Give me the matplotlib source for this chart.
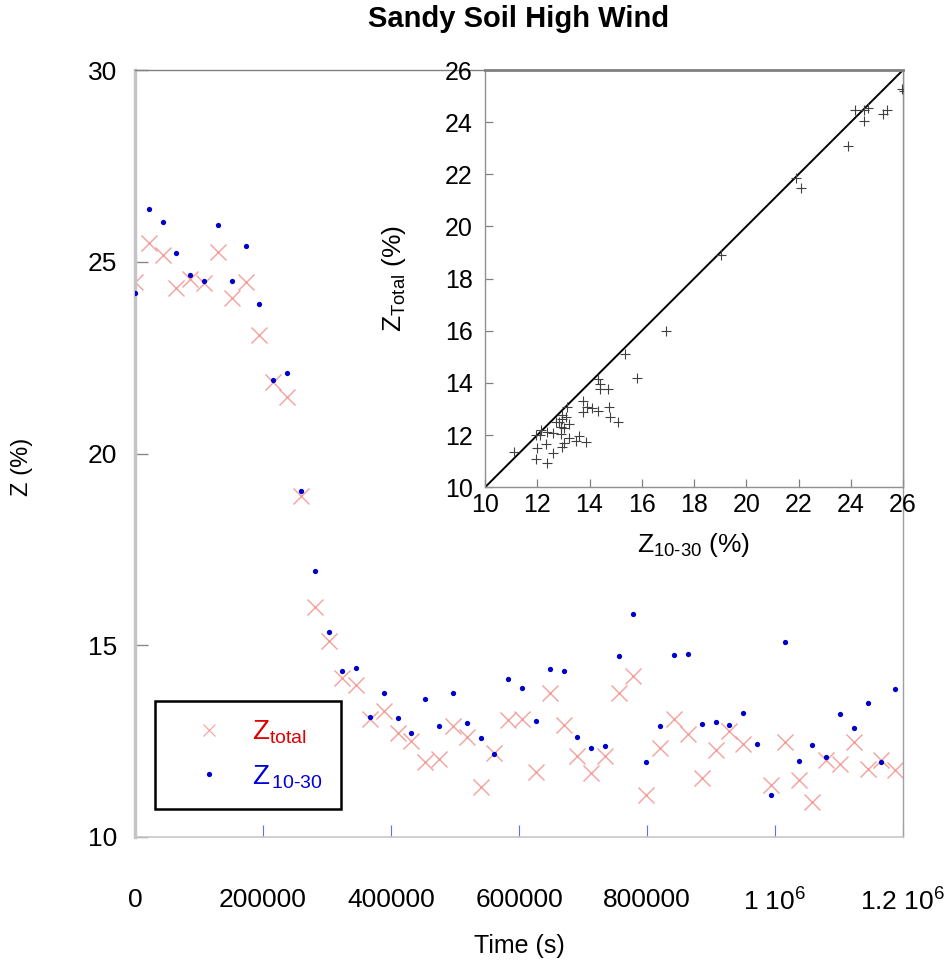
import numpy as np
import matplotlib
matplotlib.use("Agg")
import matplotlib.pyplot as plt
from matplotlib.lines import Line2D

plt.rcParams['font.family'] = ['Liberation Sans', 'DejaVu Sans']
plt.rcParams['mathtext.fontset'] = 'custom'
plt.rcParams['mathtext.rm'] = 'Liberation Sans'
plt.rcParams['mathtext.it'] = 'Liberation Sans:italic'
plt.rcParams['mathtext.bf'] = 'Liberation Sans:bold'

# ---- data (time step 21600 s) ----
time_s = np.arange(56) * 21600
z_10_30 = [24.18, 26.38, 26.03, 25.22, 24.65, 24.51, 25.96, 24.51, 25.40, 23.90,
           21.92, 22.09, 19.03, 16.94, 15.35, 14.34, 14.41, 13.13, 13.75, 13.09,
           12.71, 13.59, 12.90, 13.76, 12.96, 12.59, 12.16, 14.11, 13.89, 13.02,
           14.39, 14.33, 12.61, 12.33, 12.37, 14.72, 15.81, 11.96, 12.90, 14.75,
           14.77, 12.95, 13.01, 12.93, 13.23, 12.43, 11.10, 15.08, 11.98, 12.39,
           12.09, 13.21, 12.85, 13.49, 11.95, 13.86]
z_total = [24.46, 25.50, 25.18, 24.32, 24.54, 24.45, 25.26, 24.05, 24.47, 23.08,
           21.86, 21.48, 18.90, 16.00, 15.11, 14.14, 13.96, 13.07, 13.29, 12.70,
           12.50, 11.96, 12.03, 12.90, 12.62, 11.30, 12.20, 13.04, 13.07, 11.70,
           13.75, 12.93, 12.10, 11.66, 12.11, 13.76, 14.20, 11.10, 12.31, 13.07,
           12.68, 11.53, 12.27, 12.76, 12.42, np.nan, 11.36, 12.49, 11.49, 10.92,
           12.01, 11.90, 12.49, 11.77, 12.01, 11.75]
x_ticks = [0, 200000, 400000, 600000, 800000, 1000000, 1200000]
x_ticklabels = ["0", "200000", "400000", "600000", "800000",
                r"$\mathregular{1\ 10^{6}}$", r"$\mathregular{1.2\ 10^{6}}$"]
y_ticks = [10, 15, 20, 25, 30]
inset_ticks = [10, 12, 14, 16, 18, 20, 22, 24, 26]

W, H = 946, 969
fig = plt.figure(figsize=(W / 100, H / 100), dpi=100)

def frac(x0, y0, x1, y1):
    return [x0 / W, 1 - y1 / H, (x1 - x0) / W, (y1 - y0) / H]

ax = fig.add_axes(frac(135, 70, 903, 837))
red = '#f4a09c'
blue = '#0000cc'
ax.plot(time_s, z_total, linestyle='none', marker='x', markersize=11,
        markeredgewidth=1.0, color=red, zorder=2)
ax.plot(time_s, z_10_30, linestyle='none', marker='o', markersize=3.8,
        color=blue, markeredgewidth=0, zorder=3)

ax.set_xlim(0, 1200000)
ax.set_ylim(10, 30)
ax.set_xticks(x_ticks)
ax.set_xticklabels(x_ticklabels)
ax.set_yticks(y_ticks)
ax.tick_params(axis='x', direction='in', length=9, width=0.8, color='#6a6aff',
               pad=37, labelsize=19, labelcolor='black')
ax.tick_params(axis='y', direction='in', length=9, width=1.0, color='#888888',
               pad=13, labelsize=19, labelcolor='black')
ax.spines['left'].set_color('#c4c4c4')
ax.spines['left'].set_linewidth(2.5)
ax.spines['bottom'].set_color('#c8c8c8')
ax.spines['bottom'].set_linewidth(1.2)
ax.spines['top'].set_color('#808080')
ax.spines['top'].set_linewidth(1.0)
ax.spines['right'].set_color('#a0a0a0')
ax.spines['right'].set_linewidth(1.0)

ax.set_xlabel("Time (s)", fontsize=18)
ax.xaxis.set_label_coords(0.5, -0.127)
ax.set_ylabel("Z (%)", fontsize=17)
ax.yaxis.set_label_coords(-0.133, 0.482)

fig.text(519 / W, 1 - 19 / H, "Sandy Soil High Wind", ha='center', va='center',
         fontsize=21, fontweight='bold')

handles = [Line2D([], [], linestyle='none', marker='x', markersize=8,
                  markeredgewidth=0.8, color=red),
           Line2D([], [], linestyle='none', marker='o', markersize=3.8,
                  markeredgewidth=0, color=blue)]
labels = [r"$\mathrm{Z}_{\text{total}}$", r"$\mathrm{Z}_{\,\text{10-30}}$"]
leg = ax.legend(handles, labels, loc='lower left',
                bbox_to_anchor=(0.026, 0.037), borderaxespad=0,
                fontsize=20, frameon=True, fancybox=False, framealpha=1,
                edgecolor='black', handlelength=2.58, handletextpad=0.25,
                borderpad=0.65, labelspacing=0.6)
leg.get_frame().set_linewidth(1.8)
for t, c in zip(leg.get_texts(), ['#e00000', '#0000dd']):
    t.set_color(c)

# ---- inset ----
axi = fig.add_axes(frac(485, 70, 903, 487.3))
axi.plot([10, 26], [10, 26], color='black', linewidth=1.4, zorder=2)
axi.plot(z_10_30, z_total, linestyle='none', marker='+', markersize=7,
         markeredgewidth=0.8, color='#404040', zorder=3)
axi.set_xlim(10, 26)
axi.set_ylim(10, 26)
axi.set_xticks(inset_ticks)
axi.set_yticks(inset_ticks)
axi.tick_params(axis='both', direction='in', length=6, width=0.9,
                color='#808080', labelsize=18, labelcolor='black')
axi.tick_params(axis='x', pad=4)
axi.tick_params(axis='y', pad=9)
for s in ['left', 'bottom', 'right']:
    axi.spines[s].set_color('#909090')
    axi.spines[s].set_linewidth(1.0)
axi.spines['top'].set_color('#808080')
axi.spines['top'].set_linewidth(2.0)
axi.set_xlabel(r"$\mathrm{Z}_{\text{10-30}}$ (%)", fontsize=19)
axi.xaxis.set_label_coords(0.5, -0.105)
axi.set_ylabel(r"$\mathrm{Z}_{\text{Total}}$ (%)", fontsize=19)
axi.yaxis.set_label_coords(-0.184, 0.5)

fig.savefig("out.png", dpi=100)
